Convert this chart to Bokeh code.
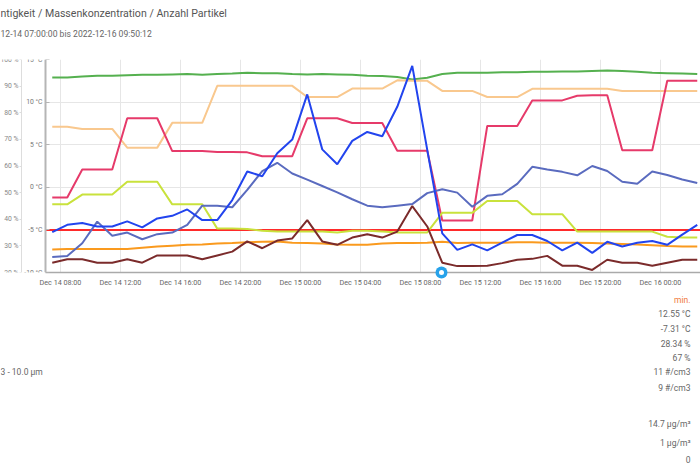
import pandas as pd
from bokeh.plotting import figure
from bokeh.models import (Range1d, LinearAxis, DatetimeTickFormatter, SingleIntervalTicker,
                          FixedTicker, ColumnDataSource, PrintfTickFormatter)
from bokeh.layouts import column
from bokeh.embed import file_html
from bokeh.resources import INLINE
from bokeh.core.properties import value

# ---------------- data ----------------
title_text = "ntigkeit / Massenkonzentration / Anzahl Partikel"
subtitle_text = "12-14 07:00:00 bis 2022-12-16 09:50:12"
range_start = "2022-12-14 07:00"
view_end = "2022-12-16 02:40"
first_sample = "2022-12-14 07:27"
event_time = "2022-12-15 09:24"
threshold_c = -5

temp_inside = [12.9, 12.9, 13.0, 13.1, 13.1, 13.15, 13.2, 13.2, 13.25, 13.3, 13.2, 13.3, 13.35, 13.45,
               13.4, 13.4, 13.3, 13.25, 13.3, 13.25, 13.2, 13.1, 13.05, 12.95, 12.65, 12.85, 13.3, 13.45,
               13.45, 13.45, 13.5, 13.5, 13.55, 13.55, 13.6, 13.6, 13.65, 13.7, 13.65, 13.55, 13.45, 13.4,
               13.35, 13.3]
temp_outside = [-7.3, -7.25, -7.25, -7.25, -7.25, -7.25, -7.1, -6.95, -6.85, -6.75, -6.7, -6.6, -6.55, -6.45,
                -6.4, -6.35, -6.5, -6.55, -6.6, -6.7, -6.75, -6.75, -6.6, -6.55, -6.55, -6.5, -6.4, -6.55,
                -6.5, -6.5, -6.5, -6.45, -6.45, -6.5, -6.5, -6.5, -6.55, -6.6, -6.65, -6.7, -6.8, -6.9,
                -6.95, -6.95]
humidity_a = [74.7, 74.7, 73.9, 73.9, 73.9, 66.9, 66.9, 66.9, 76.2, 76.2, 76.2, 90.1, 90.1, 90.1,
              90.1, 90.1, 90.1, 85.9, 85.9, 85.9, 89.1, 89.1, 89.1, 92.2, 92.0, 92.0, 88.2, 88.2,
              88.2, 85.9, 85.9, 85.9, 89.0, 89.0, 89.0, 89.0, 89.0, 89.0, 88.2, 88.2, 88.2, 88.2,
              88.2, 88.2]
humidity_b = [25.8, 26.2, 31.0, 39.1, 33.8, 35.0, 32.5, 34.4, 35.0, 37.9, 45.1, 45.1, 44.5, 51.0,
              58.1, 61.2, 57.2, 54.9, 52.5, 50.1, 47.5, 45.1, 44.5, 45.1, 45.7, 49.8, 51.3, 50.0,
              44.7, 48.8, 49.4, 53.3, 59.7, 58.7, 57.8, 56.5, 60.0, 58.1, 54.1, 53.3, 57.9, 56.6,
              54.9, 53.6]
series_crimson = [-1.2, -1.2, 2.1, 2.1, 2.1, 8.1, 8.1, 8.1, 4.25, 4.25, 4.25, 4.15, 4.15, 4.1,
                  3.65, 3.65, 3.65, 8.1, 8.1, 8.1, 7.55, 7.55, 7.55, 4.3, 4.3, 4.3, -3.9, -3.9,
                  -3.9, 7.2, 7.2, 7.2, 10.2, 10.2, 10.2, 10.75, 10.8, 10.8, 4.35, 4.35, 4.35, 12.5,
                  12.5, 12.5]
series_lime = [-2.0, -2.0, -0.85, -0.85, -0.85, 0.65, 0.65, 0.65, -2.0, -2.0, -2.0, -4.85, -4.85, -4.9,
               -5.1, -5.2, -5.2, -5.2, -5.2, -5.3, -5.1, -5.1, -5.2, -5.3, -5.3, -5.3, -3.0, -3.0,
               -3.0, -1.6, -1.6, -1.6, -3.15, -3.15, -3.15, -5.2, -5.2, -5.2, -5.2, -5.2, -5.2, -5.8,
               -5.9, -5.9]
series_blue = [-5.25, -4.4, -4.2, -4.6, -4.6, -4.0, -4.7, -3.65, -3.35, -2.6, -3.85, -3.85, -1.5, 1.85,
               1.3, 4.0, 5.6, 10.9, 4.45, 2.7, 5.45, 6.5, 6.0, 9.45, 14.25, 4.4, -5.4, -7.35,
               -6.7, -7.4, -6.5, -5.6, -5.6, -6.3, -7.4, -6.5, -7.7, -6.4, -6.95, -6.5, -6.3, -6.75,
               -5.55, -4.4]
series_brown = [-8.85, -8.45, -8.45, -8.85, -8.85, -8.45, -8.85, -8.0, -8.0, -8.0, -8.45, -8.0, -7.55, -6.35,
                -7.15, -6.25, -6.0, -3.85, -6.35, -6.75, -5.9, -5.5, -5.9, -5.2, -2.2, -4.6, -8.85, -9.25,
                -9.25, -9.2, -8.9, -8.5, -8.4, -8.05, -9.2, -9.2, -9.7, -8.5, -8.85, -8.85, -9.2, -8.85,
                -8.5, -8.5]

y_ticks_c = [-10, -5, 0, 5, 10, 15]
y_ticks_pct = [20, 30, 40, 50, 60, 70, 80, 90, 100]

min_header = "min."
min_values = ["12.55 °C", "-7.31 °C", "28.34 %", "67 %", "11 #/cm3", "9 #/cm3",
              "14.7 µg/m³", "1 µg/m³", "0"]
min_rows_y = [156, 141, 126, 112, 98, 82, 46, 27, 10]
row_label = "3 - 10.0 µm"

# ---------------- build ----------------
FONT = value("Roboto")
W = 700
PX_PER_HOUR = 15
AXIS_PX = 45          # pixel position of the temperature axis
PCT_AXIS_PX = 21      # pixel position of the humidity axis

times = pd.date_range(first_sample, periods=len(temp_inside), freq="h")
src = ColumnDataSource(dict(t=times, ti=temp_inside, to=temp_outside, ha=humidity_a, hb=humidity_b,
                            cr=series_crimson, li=series_lime, bl=series_blue, br=series_brown))

def ms(ts):
    return ts.value / 1e6

# header
hdr = figure(width=W, height=48, x_range=Range1d(0, W), y_range=Range1d(0, 48),
             output_backend="svg", toolbar_location=None, min_border=0)
hdr.axis.visible = False
hdr.grid.visible = False
hdr.outline_line_color = None
hdr.text(x=[0], y=[35], text=[title_text], text_font=FONT, text_font_size="10.6px",
         text_color="#555555", text_baseline="middle", text_align="left")
hdr.text(x=[0], y=[15], text=[subtitle_text], text_font=FONT, text_font_size="8.6px",
         text_color="#666666", text_baseline="middle", text_align="left")

# main chart: frame spans the full width, the y axes sit at fixed places in it
t_start = pd.Timestamp(range_start)
t_end = pd.Timestamp(view_end)
t_left = t_start - pd.Timedelta(hours=AXIS_PX / PX_PER_HOUR)
p = figure(width=W, height=242, x_axis_type="datetime", x_range=Range1d(t_left, t_end),
           y_range=Range1d(-10, 15), output_backend="svg", toolbar_location=None,
           min_border_left=0, min_border_right=0, min_border_top=11, min_border_bottom=18)
p.outline_line_color = None

p.xaxis.ticker = SingleIntervalTicker(interval=4 * 3600 * 1000, num_minor_ticks=0)
fmt = "%b %d %H:%M"
p.xaxis.formatter = DatetimeTickFormatter(hours=fmt, hourmin=fmt, days=fmt, minutes=fmt, minsec=fmt)
p.xaxis.bounds = (ms(t_start), ms(t_end))
p.xaxis.axis_line_color = "#aaaaaa"
p.xaxis.axis_line_width = 1.5
p.xaxis.major_tick_out = 0
p.xaxis.major_tick_in = 0
p.xaxis.minor_tick_line_color = None
p.xaxis.major_label_text_font = "Roboto"
p.xaxis.major_label_text_font_size = "7.2px"
p.xaxis.major_label_text_color = "#666666"
p.xaxis.major_label_standoff = 5

p.yaxis.fixed_location = ms(t_start)
p.yaxis.ticker = FixedTicker(ticks=y_ticks_c)
p.yaxis.formatter = PrintfTickFormatter(format="%d °C")
p.yaxis.axis_line_color = "#b5b5b5"
p.yaxis.axis_line_width = 2
p.yaxis.major_tick_in = 4
p.yaxis.major_tick_out = 0
p.yaxis.major_tick_line_color = "#b5b5b5"
p.yaxis.minor_tick_line_color = None
p.yaxis.major_label_text_font = "Roboto"
p.yaxis.major_label_text_font_size = "6.8px"
p.yaxis.major_label_text_color = "#777777"
p.yaxis.major_label_standoff = 3

p.xgrid.ticker = p.xaxis.ticker
p.xgrid.bounds = (ms(t_start), ms(t_end))
p.ygrid.cross_bounds = (ms(t_start), ms(t_end))
p.xgrid.grid_line_color = "#e6e6e6"
p.ygrid.grid_line_color = "#e6e6e6"

# humidity axis, left of the temperature axis
p.extra_y_ranges = {"pct": Range1d(20, 100)}
pct_axis = LinearAxis(y_range_name="pct", ticker=FixedTicker(ticks=y_ticks_pct),
                      formatter=PrintfTickFormatter(format="%d %%"))
pct_axis.fixed_location = ms(t_left + pd.Timedelta(hours=PCT_AXIS_PX / PX_PER_HOUR))
pct_axis.axis_line_color = "#dddddd"
pct_axis.major_tick_out = 2
pct_axis.major_tick_in = 0
pct_axis.major_tick_line_color = "#dddddd"
pct_axis.minor_tick_line_color = None
pct_axis.major_label_text_font = "Roboto"
pct_axis.major_label_text_font_size = "6.8px"
pct_axis.major_label_text_color = "#888888"
pct_axis.major_label_standoff = 1
p.add_layout(pct_axis, "left")

# threshold line from the axis to the end of the view
p.segment(x0=[t_start], x1=[t_end], y0=[threshold_c], y1=[threshold_c],
          line_color="#ff2a2a", line_width=2)

lw = 2
p.line("t", "ti", source=src, color="#55b04f", line_width=lw)
p.line("t", "ha", source=src, color="#f9c88e", line_width=lw, y_range_name="pct")
p.line("t", "cr", source=src, color="#e63a6a", line_width=lw)
p.line("t", "li", source=src, color="#c9e23c", line_width=lw)
p.line("t", "to", source=src, color="#fa9a1e", line_width=lw)
p.line("t", "hb", source=src, color="#5a6bbf", line_width=lw, y_range_name="pct")
p.line("t", "bl", source=src, color="#2244ee", line_width=lw)
p.line("t", "br", source=src, color="#7b2b2b", line_width=lw)

# event marker sitting on the time axis
ev = pd.Timestamp(event_time)
p.scatter(x=[ev], y=[-10], size=12, fill_color="#27a2ea", line_color=None, level="overlay")
p.scatter(x=[ev], y=[-10], size=5, fill_color="white", line_color=None, level="overlay")

# min table
tab = figure(width=W, height=179, x_range=Range1d(0, W), y_range=Range1d(0, 179),
             output_backend="svg", toolbar_location=None, min_border=0)
tab.axis.visible = False
tab.grid.visible = False
tab.outline_line_color = None
tab.text(x=[690], y=[170], text=[min_header], text_font=FONT, text_font_size="8.5px",
         text_color="#f07a40", text_baseline="middle", text_align="right")
tab.text(x=[690] * len(min_values), y=min_rows_y, text=min_values, text_font=FONT,
         text_font_size="8.5px", text_color="#666666", text_baseline="middle", text_align="right")
tab.text(x=[0], y=[98], text=[row_label], text_font=FONT, text_font_size="8.5px",
         text_color="#666666", text_baseline="middle", text_align="left")

layout = column(hdr, p, tab, spacing=0)
open("out.html", "w").write(file_html(layout, INLINE))
